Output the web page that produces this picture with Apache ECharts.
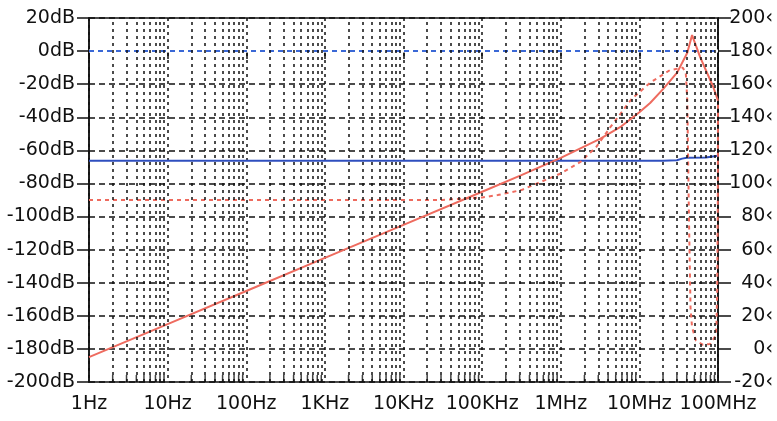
<!DOCTYPE html>
<html>
<head>
<meta charset="utf-8">
<script src="https://cdn.jsdelivr.net/npm/echarts@6/dist/echarts.min.js"></script>
<style>
  html, body { margin: 0; padding: 0; background: #fff; }
  #chart { width: 777px; height: 421px; }
</style>
</head>
<body>
<div id="chart"></div>
<script>
// tick labels for the frequency axis, one per decade
const freqLabels = ['1Hz', '10Hz', '100Hz', '1KHz', '10KHz', '100KHz', '1MHz', '10MHz', '100MHz'];
const decades = [1, 10, 100, 1e3, 1e4, 1e5, 1e6, 1e7];
const minorSteps = [2, 3, 4, 5, 6, 7, 8, 9];

// magnitude (left axis, dB)
const magFreq = [1, 10, 100, 1e3, 1e4, 1e5, 3.16e5, 1e6, 3.16e6, 5.69e6, 1e7, 1.37e7, 2e7, 3.02e7, 4.07e7, 4.68e7, 5.93e7, 8.71e7, 1e8];
const magDb = [-185, -165, -145, -125, -105, -85, -75, -64.5, -53, -46, -37, -31.4, -23, -13, -1, 9.7, -3.6, -21.7, -30];

// reference level (left axis, dB)
const refFreq = [1, 2e7, 3e7, 3.5e7, 4e7, 7e7, 1e8];
const refDb = [-66.3, -66.3, -66, -65, -64.5, -64.3, -63.2];

// 0 dB line
const zeroFreq = [1, 1e8];
const zeroDb = [0, 0];

// phase (right axis, degrees)
const phaseFreq = [1, 3.16e4, 1e5, 1.58e5, 3.16e5, 5.62e5, 1e6, 1.78e6, 2.82e6, 4.27e6, 7.94e6, 1.38e7, 2.45e7, 3.55e7, 3.89e7, 4.07e7, 4.27e7, 4.47e7, 4.68e7, 5.25e7, 6.46e7, 7.94e7, 9.33e7, 9.55e7, 9.77e7, 9.95e7, 1e8];
const phaseDeg = [90, 90, 91.5, 93, 96, 101, 106, 113, 122, 134, 151, 161, 168.5, 170, 167, 150, 80, 25, 13, 5, 2.5, 3, 8, 14, 35, 90, 150];

const pairs = (xs, ys) => xs.map((x, i) => [x, ys[i]]);

const minorFreqs = [];
decades.forEach(d => minorSteps.forEach(m => minorFreqs.push(d * m)));

const font = 'DejaVu Sans';
const red = '#ee6b5f';
const gridColor = '#111';

const option = {
  animation: false,
  grid: {
    left: 89, right: 59, top: 18, bottom: 39,
    show: true, borderColor: '#111', borderWidth: 1.5,
    outerBoundsMode: 'none'
  },
  xAxis: {
    type: 'log',
    logBase: 10,
    min: 1,
    max: 1e8,
    splitNumber: 8,
    axisLine: { show: true, lineStyle: { color: '#111', width: 1.5 } },
    axisTick: { show: true, length: 8, lineStyle: { color: '#111', width: 1.5 } },
    axisLabel: {
      show: true,
      margin: 13,
      color: '#111',
      fontFamily: font,
      fontSize: 19,
      showMinLabel: true,
      showMaxLabel: true,
      formatter: v => freqLabels[Math.round(Math.log10(v))]
    },
    splitLine: { show: true, lineStyle: { color: gridColor, type: [3, 4], width: 1.5 } },
    minorTick: { show: false },
    minorSplitLine: { show: false }
  },
  yAxis: [
    {
      type: 'value',
      min: -200,
      max: 20,
      interval: 20,
      position: 'left',
      axisLine: { show: true, lineStyle: { color: '#111', width: 1.5 } },
      axisTick: { show: true, length: 12, lineStyle: { color: '#111', width: 1.5 } },
      axisLabel: {
        margin: 14,
        color: '#111',
        fontFamily: font,
        fontSize: 19,
        showMinLabel: true,
        showMaxLabel: true,
        formatter: v => v + 'dB'
      },
      splitLine: { show: true, lineStyle: { color: gridColor, type: [6, 4], width: 1.5 } }
    },
    {
      type: 'value',
      min: -20,
      max: 200,
      interval: 20,
      position: 'right',
      axisLine: { show: true, lineStyle: { color: '#111', width: 1.5 } },
      axisTick: { show: true, length: 13, lineStyle: { color: '#111', width: 1.5 } },
      axisLabel: {
        margin: 55,
        align: 'right',
        color: '#111',
        fontFamily: font,
        fontSize: 19,
        showMinLabel: true,
        showMaxLabel: true,
        formatter: v => v + '‹'
      },
      splitLine: { show: false }
    }
  ],
  series: [
    {
      // minor vertical grid lines
      type: 'line',
      data: [],
      z: 1,
      silent: true,
      markLine: {
        silent: true,
        symbol: 'none',
        label: { show: false },
        lineStyle: { color: gridColor, type: [3, 4], width: 1.5 },
        data: minorFreqs.map(f => ({ xAxis: f }))
      }
    },
    {
      // minor ticks on the frequency axis
      type: 'scatter',
      data: minorFreqs.map(f => [f, -200]),
      symbol: 'rect',
      symbolSize: [1.5, 7],
      symbolOffset: [0, -3.5],
      itemStyle: { color: '#111' },
      silent: true,
      z: 3
    },
    {
      // white backing so the 0 dB dashes show gaps like the original
      type: 'line',
      data: pairs(zeroFreq, zeroDb),
      showSymbol: false,
      silent: true,
      lineStyle: { color: '#fff', width: 3 },
      z: 2
    },
    {
      type: 'line',
      data: pairs(zeroFreq, zeroDb),
      showSymbol: false,
      lineStyle: { color: '#3a68d6', width: 2, type: [5, 4] },
      z: 2
    },
    {
      type: 'line',
      data: pairs(refFreq, refDb),
      showSymbol: false,
      lineStyle: { color: '#2f4fbf', width: 2 },
      z: 2
    },
    {
      type: 'line',
      yAxisIndex: 1,
      data: pairs(phaseFreq, phaseDeg),
      showSymbol: false,
      lineStyle: { color: red, width: 2, type: [4, 4] },
      z: 2
    },
    {
      type: 'line',
      data: pairs(magFreq, magDb),
      showSymbol: false,
      lineStyle: { color: red, width: 2 },
      z: 2
    }
  ]
};

const mycharts = echarts.init(document.getElementById('chart'));
mycharts.setOption(option);
window.addEventListener('resize', () => {
  mycharts.resize();
});
</script>
</body>
</html>
